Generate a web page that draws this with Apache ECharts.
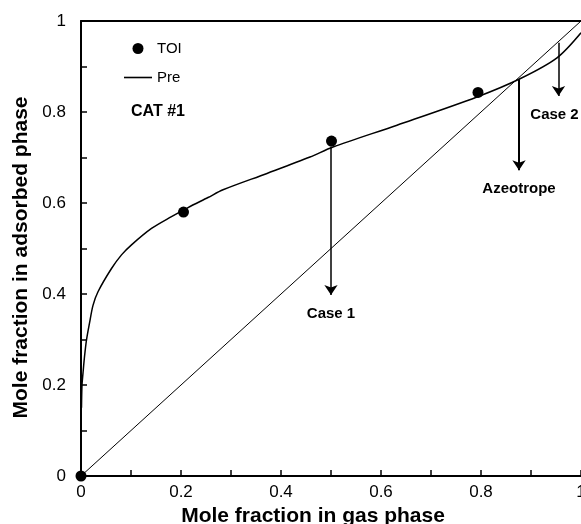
<!DOCTYPE html>
<html>
<head>
<meta charset="utf-8">
<script src="https://cdn.jsdelivr.net/npm/echarts@6/dist/echarts.min.js"></script>
<style>html,body{margin:0;padding:0;background:#fff;}#c{width:581px;height:524px;}</style>
</head>
<body>
<div id="c"></div>
<script>
// ---- data ----
const toiPoints = [[0, 0], [0.205, 0.580], [0.501, 0.736], [0.794, 0.843]];
const prePoints = [
  [0.001, 0.15], [0.002, 0.20], [0.004, 0.226], [0.007, 0.262], [0.011, 0.299],
  [0.017, 0.336], [0.024, 0.375], [0.034, 0.405], [0.061, 0.456], [0.081, 0.486],
  [0.101, 0.508], [0.141, 0.544], [0.181, 0.570], [0.214, 0.590], [0.254, 0.612],
  [0.284, 0.629], [0.372, 0.665], [0.458, 0.701], [0.504, 0.723], [0.632, 0.771],
  [0.792, 0.833], [0.878, 0.873], [0.952, 0.919], [1.0, 0.974]
];
const diagonal = [[0, 0], [1, 1]];
const arrowNames = ['Case 1', 'Azeotrope', 'Case 2'];
const arrowX = [0.5, 0.876, 0.955];
const arrowFromY = [0.724, 0.872, 0.952];
const arrowToY = [0.398, 0.672, 0.835];
const arrowWidths = [1.5, 2, 1.5];
const axisTicks = [0, 0.2, 0.4, 0.6, 0.8, 1];

const chart = echarts.init(document.getElementById('c'));
const FONT = 'Liberation Sans, Arial, sans-serif';

const labelPads = [[0, 0, 0, 0], [0, 0, 0, 0], [0, 8, 0, 0]];
const arrowData = arrowNames.map((n, i) => [
  { coord: [arrowX[i], arrowFromY[i]], lineStyle: { width: arrowWidths[i] } },
  { coord: [arrowX[i], arrowToY[i]], label: { formatter: n, padding: labelPads[i] } }
]);

chart.setOption({
  animation: false,
  backgroundColor: '#fff',
  textStyle: { fontFamily: FONT },
  grid: { left: 81, right: 0, top: 21, bottom: 48, containLabel: false, outerBoundsMode: 'none' },
  title: {
    text: 'CAT #1', left: 131, top: 104, padding: 0,
    textStyle: { fontSize: 16, fontWeight: 'bold', color: '#000', fontFamily: FONT }
  },
  legend: {
    data: [
      { name: 'TOI', icon: 'circle' },
      { name: 'Pre', icon: 'path://M0,0 L28,0 L28,1.6 L0,1.6 Z' }
    ],
    orient: 'vertical', left: 124, top: 41, padding: 0,
    itemWidth: 28, itemHeight: 11, itemGap: 14,
    textStyle: { fontSize: 15, color: '#000', fontFamily: FONT }
  },
  xAxis: [{
    type: 'value', min: 0, max: 1, interval: 0.2,
    name: 'Mole fraction in gas phase', nameLocation: 'middle', nameGap: 28,
    nameTextStyle: { fontSize: 21, fontWeight: 'bold', color: '#000', fontFamily: FONT, padding: [0, 36, 0, 0] },
    axisLine: { lineStyle: { color: '#000', width: 2 } },
    axisTick: { inside: true, length: 6, lineStyle: { color: '#000', width: 1.5 } },
    minorTick: { show: true, splitNumber: 2, length: 6, lineStyle: { color: '#000', width: 1.5 } },
    axisLabel: { fontSize: 17, color: '#000', margin: 8, fontFamily: FONT,
      formatter: v => axisTicks.includes(+v.toFixed(1)) ? String(+v.toFixed(1)) : '' },
    splitLine: { show: false }
  }, {
    type: 'value', min: 0, max: 1, position: 'top',
    axisLine: { show: true, onZero: false, lineStyle: { color: '#000', width: 2 } },
    axisTick: { show: false }, axisLabel: { show: false }, splitLine: { show: false }
  }],
  yAxis: {
    type: 'value', min: 0, max: 1, interval: 0.2,
    name: 'Mole fraction in adsorbed phase', nameLocation: 'middle', nameGap: 42,
    nameTextStyle: { fontSize: 21, fontWeight: 'bold', color: '#000', fontFamily: FONT, padding: [0, 18, 0, 0] },
    axisLine: { show: true, lineStyle: { color: '#000', width: 2 } },
    axisTick: { inside: true, length: 6, lineStyle: { color: '#000', width: 1.5 } },
    minorTick: { show: true, splitNumber: 2, length: 6, lineStyle: { color: '#000', width: 1.5 } },
    axisLabel: { fontSize: 17, color: '#000', margin: 15, fontFamily: FONT },
    splitLine: { show: false }
  },
  series: [
    {
      name: 'diag', type: 'line', data: diagonal, symbol: 'none',
      lineStyle: { color: '#000', width: 1 }, silent: true
    },
    {
      name: 'Pre', type: 'line', data: prePoints, symbol: 'none', smooth: 0.3,
      lineStyle: { color: '#000', width: 1.5 }, itemStyle: { color: '#000' }
    },
    {
      name: 'TOI', type: 'scatter', data: toiPoints, symbol: 'circle', symbolSize: 11,
      itemStyle: { color: '#000', opacity: 1 }, z: 5
    },
    {
      name: 'arrows', type: 'line', data: [], symbol: 'none',
      markLine: {
        silent: true, animation: false,
        symbol: ['none', 'arrow'], symbolSize: 10,
        lineStyle: { color: '#000', type: 'solid', width: 1.5 },
        label: { show: true, position: 'end', distance: 11, color: '#000',
          fontSize: 15, fontWeight: 'bold', fontFamily: FONT },
        emphasis: { disabled: true },
        data: arrowData
      }
    }
  ]
});
</script>
</body>
</html>
